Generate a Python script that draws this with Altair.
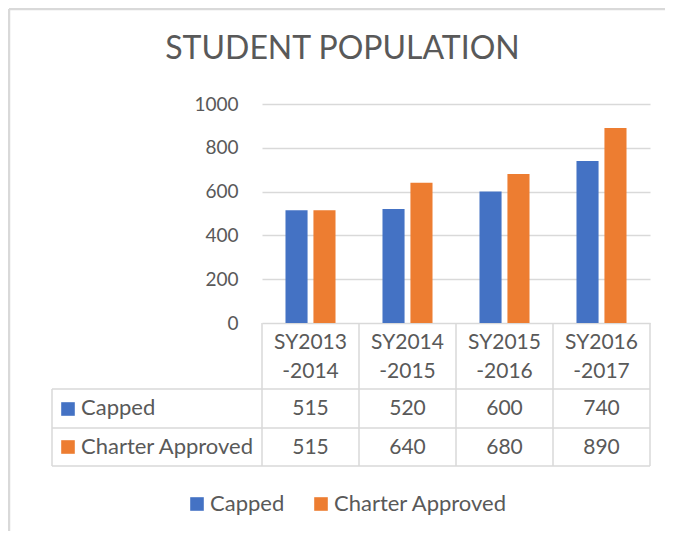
import altair as alt
import pandas as pd

categories = ["SY2013-2014", "SY2014-2015", "SY2015-2016", "SY2016-2017"]
header_top = ["SY2013", "SY2014", "SY2015", "SY2016"]
header_bottom = ["-2014", "-2015", "-2016", "-2017"]
series = ["Capped", "Charter Approved"]
capped = [515, 520, 600, 740]
charter_approved = [515, 640, 680, 890]
colors = ["#4472C4", "#ED7D31"]
title_text = "STUDENT POPULATION"
y_ticks = [0, 200, 400, 600, 800, 1000]

TEXT = "#595959"
LINE = "#D9D9D9"
FONT = "Lato"

rows = []
for i, c in enumerate(categories):
    rows.append(dict(cat=c, series=series[0], value=capped[i]))
    rows.append(dict(cat=c, series=series[1], value=charter_approved[i]))
df = pd.DataFrame(rows)
cats_df = pd.DataFrame(dict(cat=categories, top=header_top, bottom=header_bottom))
series_df = pd.DataFrame(dict(series=series))
one = alt.Data(values=[{"t": title_text}])

xs = alt.Scale(domain=categories, paddingInner=0, paddingOuter=0)
cs = alt.Scale(domain=series, range=colors)

bars = alt.Chart(df).mark_bar().encode(
    x=alt.X("cat:N", scale=xs, axis=None),
    xOffset=alt.XOffset("series:N", scale=alt.Scale(domain=series, paddingInner=0.21, paddingOuter=0.84)),
    y=alt.Y("value:Q", scale=alt.Scale(domain=[0, 1000], nice=False),
            axis=alt.Axis(values=y_ticks, format="d", grid=True, gridColor=LINE, gridWidth=1.5,
                          domain=False, ticks=False, tickSize=0, labelPadding=24,
                          labelFontSize=19, labelFont=FONT, labelColor=TEXT, title=None)),
    color=alt.Color("series:N", scale=cs,
                    legend=alt.Legend(orient="none", legendX=-76, legendY=389, direction="horizontal",
                                      columns=2, title=None, symbolType="square", symbolSize=185,
                                      symbolStrokeWidth=0, labelFontSize=22, labelFont=FONT,
                                      labelColor=TEXT, columnPadding=25, labelOffset=2, padding=0,
                                      labelLimit=400)),
)

def hline(y, x0, x1):
    return alt.Chart(one).mark_rule(color=LINE, strokeWidth=1.5).encode(
        x=alt.value(x0), x2=alt.value(x1), y=alt.value(y))

def vline(x, y0, y1, w=1.5):
    return alt.Chart(one).mark_rule(color=LINE, strokeWidth=w).encode(
        x=alt.value(x), y=alt.value(y0), y2=alt.value(y1))

col_lines = alt.Chart(cats_df).mark_rule(color=LINE, strokeWidth=1.5).encode(
    x=alt.X("cat:N", scale=xs, bandPosition=0, axis=None),
    y=alt.value(219), y2=alt.value(362))

txt = dict(font=FONT, fontSize=21, color=TEXT, baseline="alphabetic")
ltxt = dict(font=FONT, fontSize=22, color=TEXT, baseline="alphabetic")

head1 = alt.Chart(cats_df).mark_text(align="center", **txt).encode(
    x=alt.X("cat:N", scale=xs, axis=None), y=alt.value(245), text="top:N")
head2 = alt.Chart(cats_df).mark_text(align="center", **txt).encode(
    x=alt.X("cat:N", scale=xs, axis=None), y=alt.value(274), text="bottom:N")

val1 = alt.Chart(df).transform_filter(alt.datum.series == series[0]).mark_text(align="center", **txt).encode(
    x=alt.X("cat:N", scale=xs, axis=None), y=alt.value(311), text="value:Q")
val2 = alt.Chart(df).transform_filter(alt.datum.series == series[1]).mark_text(align="center", **txt).encode(
    x=alt.X("cat:N", scale=xs, axis=None), y=alt.value(350), text="value:Q")

lab1 = alt.Chart(series_df).transform_filter(alt.datum.series == series[0]).mark_text(align="left", **ltxt).encode(
    x=alt.value(-181), y=alt.value(311), text="series:N")
lab2 = alt.Chart(series_df).transform_filter(alt.datum.series == series[1]).mark_text(align="left", **ltxt).encode(
    x=alt.value(-181), y=alt.value(350), text="series:N")

sq1 = alt.Chart(series_df).transform_filter(alt.datum.series == series[0]).mark_square(size=185, opacity=1).encode(
    x=alt.value(-194), y=alt.value(305), color=alt.Color("series:N", scale=cs))
sq2 = alt.Chart(series_df).transform_filter(alt.datum.series == series[1]).mark_square(size=185, opacity=1).encode(
    x=alt.value(-194), y=alt.value(343), color=alt.Color("series:N", scale=cs))

title = alt.Chart(one).mark_text(align="center", baseline="alphabetic", font=FONT, fontSize=32, color=TEXT).encode(
    x=alt.value(80.5), y=alt.value(-44.7), text="t:N")

frame_top = alt.Chart(one).mark_rule(color=LINE, strokeWidth=2.5).encode(
    x=alt.value(-253), x2=alt.value(403), y=alt.value(-95))
frame_left = vline(-253, -95, 427, w=2.5)

chart = alt.layer(
    frame_top, frame_left,
    bars,
    hline(285, -210, 388), hline(324, -210, 388), hline(362, -210, 388),
    col_lines, vline(388, 219, 362), vline(-210, 285, 362),
    head1, head2, val1, val2, lab1, lab2, sq1, sq2, title,
).properties(
    width=388, height=219,
    autosize=alt.AutoSizeParams(type="none"),
    padding={"left": 254, "top": 96, "right": 15, "bottom": 208},
    background="white",
).configure_view(stroke=None)

chart.save("out.html", embed_options={"renderer": "svg", "actions": False})
